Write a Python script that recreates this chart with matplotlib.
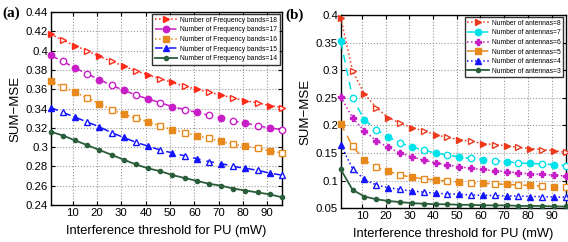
import matplotlib
matplotlib.use('Agg')
import matplotlib.pyplot as plt
import numpy as np

plt.rcParams['font.family'] = ['Liberation Sans', 'DejaVu Sans']

x_vals = list(range(1, 97, 5))

# panel (a): number of frequency bands
bands_labels = ['Number of Frequency bands=18', 'Number of Frequency bands=17',
                'Number of Frequency bands=16', 'Number of Frequency bands=15',
                'Number of Frequency bands=14']
bands_18 = [0.417, 0.411, 0.405, 0.400, 0.394, 0.389, 0.384, 0.379, 0.375, 0.371,
            0.367, 0.363, 0.360, 0.357, 0.354, 0.351, 0.348, 0.346, 0.343, 0.341]
bands_17 = [0.395, 0.389, 0.382, 0.376, 0.370, 0.364, 0.359, 0.354, 0.350, 0.346,
            0.342, 0.339, 0.336, 0.333, 0.330, 0.327, 0.325, 0.322, 0.320, 0.318]
bands_16 = [0.369, 0.362, 0.357, 0.351, 0.345, 0.339, 0.334, 0.330, 0.326, 0.322,
            0.318, 0.315, 0.312, 0.309, 0.306, 0.303, 0.301, 0.299, 0.296, 0.294]
bands_15 = [0.341, 0.336, 0.331, 0.326, 0.321, 0.315, 0.310, 0.305, 0.301, 0.297,
            0.294, 0.291, 0.288, 0.285, 0.283, 0.280, 0.278, 0.276, 0.273, 0.271]
bands_14 = [0.316, 0.312, 0.307, 0.302, 0.297, 0.292, 0.287, 0.282, 0.278, 0.275,
            0.271, 0.268, 0.265, 0.262, 0.260, 0.257, 0.255, 0.253, 0.251, 0.248]

# panel (b): number of antennas
ant_labels = ['Number of antennas=8', 'Number of antennas=7', 'Number of antennas=6',
              'Number of antennas=5', 'Number of antennas=4', 'Number of antennas=3']
ant_8 = [0.395, 0.298, 0.257, 0.232, 0.214, 0.204, 0.196, 0.190, 0.183, 0.178,
         0.174, 0.171, 0.167, 0.165, 0.163, 0.160, 0.158, 0.156, 0.154, 0.151]
ant_7 = [0.352, 0.249, 0.210, 0.192, 0.179, 0.168, 0.161, 0.155, 0.150, 0.146,
         0.143, 0.140, 0.138, 0.136, 0.134, 0.132, 0.131, 0.130, 0.129, 0.127]
ant_6 = [0.252, 0.213, 0.190, 0.172, 0.160, 0.150, 0.143, 0.137, 0.132, 0.128,
         0.125, 0.122, 0.120, 0.118, 0.116, 0.114, 0.112, 0.111, 0.110, 0.108]
ant_5 = [0.203, 0.162, 0.137, 0.124, 0.117, 0.110, 0.106, 0.103, 0.101, 0.099,
         0.097, 0.096, 0.095, 0.094, 0.093, 0.092, 0.091, 0.090, 0.089, 0.088]
ant_4 = [0.165, 0.121, 0.102, 0.092, 0.087, 0.084, 0.081, 0.079, 0.077, 0.076,
         0.075, 0.074, 0.073, 0.073, 0.072, 0.072, 0.071, 0.071, 0.070, 0.070]
ant_3 = [0.120, 0.083, 0.071, 0.066, 0.063, 0.061, 0.059, 0.058, 0.057, 0.057,
         0.056, 0.056, 0.055, 0.055, 0.055, 0.054, 0.054, 0.054, 0.053, 0.053]

x_ticks = [10, 20, 30, 40, 50, 60, 70, 80, 90]


def draw_series(ax, x, y, color, ls, marker, ms, label, alternate=True):
    ax.plot(x, y, color=color, linestyle=ls, lw=1.1, marker=marker, ms=ms,
            markevery=slice(0, None, 2) if alternate else None,
            mfc=color, mec=color, label=label, clip_on=False, zorder=3)
    if alternate:
        ax.plot(x[1::2], y[1::2], linestyle='none', marker=marker, ms=ms,
                mfc='white', mec=color, mew=1.0, clip_on=False, zorder=3)


def style_axes(ax):
    ax.set_xlim(1, 96)
    ax.set_xticks(x_ticks)
    ax.grid(True, linestyle=':', color='#999999', lw=0.8)
    ax.tick_params(direction='in', labelsize=8.2, length=3, pad=2, top=True, right=True)
    ax.set_xlabel('Interference threshold for PU (mW)', fontsize=9.3, labelpad=5)
    ax.set_ylabel('SUM\u2212MSE', fontsize=9.5, labelpad=3)
    for s in ax.spines.values():
        s.set_linewidth(1.0)


def add_legend(ax):
    leg = ax.legend(loc='upper right', fontsize=4.9, frameon=True, fancybox=False,
                    edgecolor='black', borderpad=0.35, labelspacing=0.38,
                    handlelength=3.2, handletextpad=0.5, borderaxespad=0.35)
    leg.get_frame().set_linewidth(1.0)


fig = plt.figure(figsize=(5.68, 2.42), dpi=100)
ax1 = fig.add_axes([0.0893, 0.153, 0.407, 0.797])
ax2 = fig.add_axes([0.600, 0.140, 0.396, 0.798])

red = '#ff2a1a'
magenta = '#c81ec8'
orange = '#e8891e'
blue = '#1414ff'
green = '#2a5e3a'
cyan = '#00e2ea'

draw_series(ax1, x_vals, bands_18, red, ':', '>', 4.6, bands_labels[0])
draw_series(ax1, x_vals, bands_17, magenta, (0, (5, 4)), 'o', 4.6, bands_labels[1])
draw_series(ax1, x_vals, bands_16, orange, ':', 's', 3.8, bands_labels[2])
draw_series(ax1, x_vals, bands_15, blue, (0, (5, 4)), '^', 4.6, bands_labels[3])
ax1.plot(x_vals, bands_14, color=green, ls='-', lw=1.3, marker='o', ms=3,
         label=bands_labels[4], clip_on=False, zorder=3)
style_axes(ax1)
ax1.set_ylim(0.24, 0.44)
ax1.set_yticks(np.arange(0.24, 0.4401, 0.02))
ax1.set_yticklabels(['0.24', '0.26', '0.28', '0.3', '0.32', '0.34', '0.36',
                     '0.38', '0.4', '0.42', '0.44'])
add_legend(ax1)

red2 = '#ee3a1c'
draw_series(ax2, x_vals, ant_8, red2, ':', '>', 4.6, ant_labels[0])
draw_series(ax2, x_vals, ant_7, cyan, (0, (5, 4)), 'o', 4.6, ant_labels[1])
ax2.plot(x_vals, ant_6, color=magenta, ls=':', lw=1.1, marker='P', ms=4,
         label=ant_labels[2], clip_on=False, zorder=3)
draw_series(ax2, x_vals, ant_5, orange, (0, (5, 4)), 's', 3.8, ant_labels[3])
draw_series(ax2, x_vals, ant_4, blue, ':', '^', 4.6, ant_labels[4])
ax2.plot(x_vals, ant_3, color=green, ls='-', lw=1.3, marker='o', ms=3,
         label=ant_labels[5], clip_on=False, zorder=3)
style_axes(ax2)
ax2.set_ylim(0.05, 0.4)
ax2.set_yticks([0.05, 0.1, 0.15, 0.2, 0.25, 0.3, 0.35, 0.4])
ax2.set_yticklabels(['0.05', '0.1', '0.15', '0.2', '0.25', '0.3', '0.35', '0.4'])
add_legend(ax2)

fig.text(0.004, 0.945, '(a)', fontsize=11, fontweight='bold', family='Liberation Serif',
         va='center', ha='left')
fig.text(0.502, 0.935, '(b)', fontsize=11, fontweight='bold', family='Liberation Serif',
         va='center', ha='left')

fig.savefig('out.png', dpi=100)
